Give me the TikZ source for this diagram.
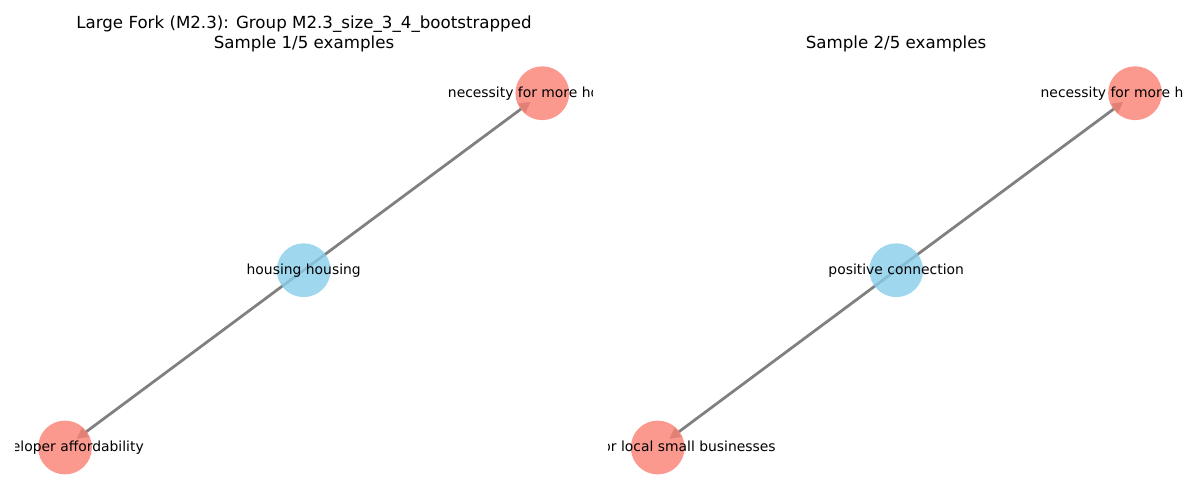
\documentclass[tikz,border=0pt]{standalone}
\usepackage{fontspec}
\setmainfont{DejaVu Sans}
\usetikzlibrary{arrows.meta}
\definecolor{skyblueC}{RGB}{135,206,235}
\definecolor{salmonC}{RGB}{250,128,114}
\definecolor{edgegray}{RGB}{128,128,128}
\tikzset{
  bluenode/.style={circle,fill=skyblueC,fill opacity=0.8,draw=none,minimum size=53.8*0.75pt,inner sep=0pt},
  rednode/.style={circle,fill=salmonC,fill opacity=0.8,draw=none,minimum size=53.8*0.75pt,inner sep=0pt},
  lbl/.style={inner sep=0pt,text=black,font=\fontsize{10.42}{12}\selectfont},
  ttl/.style={inner sep=0pt,anchor=base,text=black,font=\fontsize{12.5}{15}\selectfont},
  edge/.style={draw=edgegray,line width=2.08pt,-{Triangle[length=8.25pt,width=8.25pt]},shorten >=10.9pt}
}
\begin{document}
\begin{tikzpicture}[x=0.75pt,y=-0.75pt]
\useasboundingbox[fill=white] (0,0) rectangle (1200,500);
% titles
\node[ttl] (t1) at (304,28) {Large Fork (M2.3): Group M2.3\_size\_3\_4\_bootstrapped};
\node[ttl] (t2) at (304,48) {Sample 1/5 examples};
\node[ttl] (t3) at (896,48) {Sample 2/5 examples};
% left panel
\coordinate (lc) at (303.7,270.2);
\coordinate (lt) at (542.3,93.2);
\coordinate (lb) at (65,447.5);
\draw[edge] (lc) -- (lt);
\draw[edge] (lc) -- (lb);
\node[bluenode] (L1) at (lc) {};
\node[rednode] (L2) at (lt) {};
\node[rednode] (L3) at (lb) {};
\begin{scope}
\clip (15,55) rectangle (592,495);
\node[lbl] (L1t) at (lc) {housing housing};
\node[lbl] (L2t) at (lt) {necessity for more housing};
\node[lbl] (L3t) at (lb) {developer affordability};
\end{scope}
% right panel
\coordinate (rc) at (896.2,270.2);
\coordinate (rt) at (1135,93.2);
\coordinate (rb) at (657.7,447.5);
\draw[edge] (rc) -- (rt);
\draw[edge] (rc) -- (rb);
\node[bluenode] (R1) at (rc) {};
\node[rednode] (R2) at (rt) {};
\node[rednode] (R3) at (rb) {};
\begin{scope}
\clip (608,55) rectangle (1183,495);
\node[lbl] (R1t) at (rc) {positive connection};
\node[lbl] (R2t) at (rt) {necessity for more housing};
\node[lbl] (R3t) at (rb) {support for local small businesses};
\end{scope}
\end{tikzpicture}
\end{document}
